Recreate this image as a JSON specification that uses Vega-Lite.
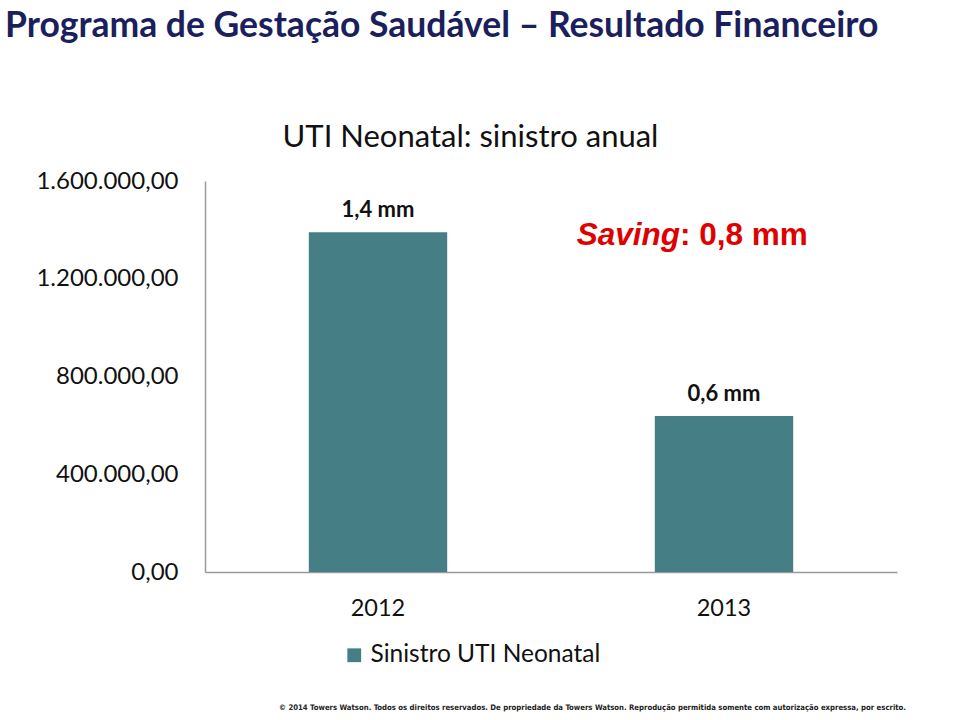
{
  "$schema": "https://vega.github.io/schema/vega-lite/v6.json",
  "width": 692,
  "height": 391,
  "autosize": {"type": "none"},
  "padding": {"left": 205, "top": 181, "right": 63, "bottom": 148},
  "background": "white",
  "title": {
    "text": "Programa de Gestação Saudável – Resultado Financeiro",
    "anchor": "start",
    "frame": "group",
    "dx": -200,
    "offset": 77,
    "font": "Lato",
    "fontSize": 35.5,
    "fontWeight": "bold",
    "color": "#1B1F5E"
  },
  "data": {
    "values": [
      {"ano": "2012", "valor": 1390000, "rotulo": "1,4 mm", "serie": "Sinistro UTI Neonatal"},
      {"ano": "2013", "valor": 638000, "rotulo": "0,6 mm", "serie": "Sinistro UTI Neonatal"}
    ]
  },
  "encoding": {
    "x": {
      "field": "ano",
      "type": "nominal",
      "scale": {"paddingInner": 0.6, "paddingOuter": 0.3},
      "axis": {
        "labelAngle": 0,
        "ticks": false,
        "domainColor": "#9a9a9a",
        "domainWidth": 1.5,
        "labelFont": "Lato",
        "labelFontSize": 23.5,
        "labelColor": "#111111",
        "labelPadding": 24,
        "title": "© 2014 Towers Watson. Todos os direitos reservados. De propriedade da Towers Watson. Reprodução permitida somente com autorização expressa, por escrito.",
        "titleFont": "DejaVu Sans Condensed, Liberation Sans, sans-serif",
        "titleFontSize": 7.7,
        "titleFontWeight": "bold",
        "titleColor": "#222222",
        "titleX": 387,
        "titleY": 135,
        "titleAlign": "center",
        "titleBaseline": "middle",
        "titleLimit": 0
      }
    },
    "y": {
      "field": "valor",
      "type": "quantitative",
      "scale": {"domain": [0, 1600000], "nice": false},
      "axis": {
        "values": [0, 400000, 800000, 1200000, 1600000],
        "format": ",.2f",
        "grid": false,
        "ticks": false,
        "domainColor": "#9a9a9a",
        "domainWidth": 1.5,
        "labelFont": "Lato",
        "labelFontSize": 24,
        "labelColor": "#111111",
        "labelPadding": 27,
        "title": "UTI Neonatal: sinistro anual",
        "titleAngle": 0,
        "titleX": 265,
        "titleY": -44,
        "titleAlign": "center",
        "titleBaseline": "middle",
        "titleFont": "Lato",
        "titleFontSize": 31,
        "titleFontWeight": "normal",
        "titleColor": "#111111",
        "titleLimit": 0
      }
    }
  },
  "layer": [
    {
      "mark": {"type": "bar"},
      "encoding": {
        "color": {
          "field": "serie",
          "type": "nominal",
          "scale": {"range": ["#457E84"]},
          "legend": {
            "title": null,
            "orient": "none",
            "legendX": 137,
            "legendY": 462,
            "symbolType": "square",
            "symbolSize": 190,
            "symbolStrokeWidth": 0,
            "labelFont": "Lato",
            "labelFontSize": 24.5,
            "labelColor": "#111111",
            "labelOffset": 4,
            "labelLimit": 0
          }
        }
      }
    },
    {
      "mark": {"type": "text", "dy": -22, "baseline": "middle", "font": "Lato", "fontSize": 22, "fontWeight": "bold", "color": "#111111"},
      "encoding": {"text": {"field": "rotulo"}}
    },
    {
      "data": {"values": [{"ano": "2013", "valor": 1375000, "parte1": "Saving", "parte2": ": 0,8 mm"}]},
      "layer": [
        {
          "mark": {"type": "text", "align": "right", "baseline": "middle", "dx": -44, "font": "Liberation Sans", "fontSize": 31.5, "fontWeight": "bold", "fontStyle": "italic", "color": "#E00000"},
          "encoding": {"text": {"field": "parte1"}}
        },
        {
          "mark": {"type": "text", "align": "left", "baseline": "middle", "dx": -44, "font": "Liberation Sans", "fontSize": 31.5, "fontWeight": "bold", "color": "#E00000"},
          "encoding": {"text": {"field": "parte2"}}
        }
      ]
    }
  ],
  "config": {
    "view": {"stroke": null},
    "locale": {"number": {"decimal": ",", "thousands": ".", "grouping": [3], "currency": ["R$", ""]}}
  }
}
